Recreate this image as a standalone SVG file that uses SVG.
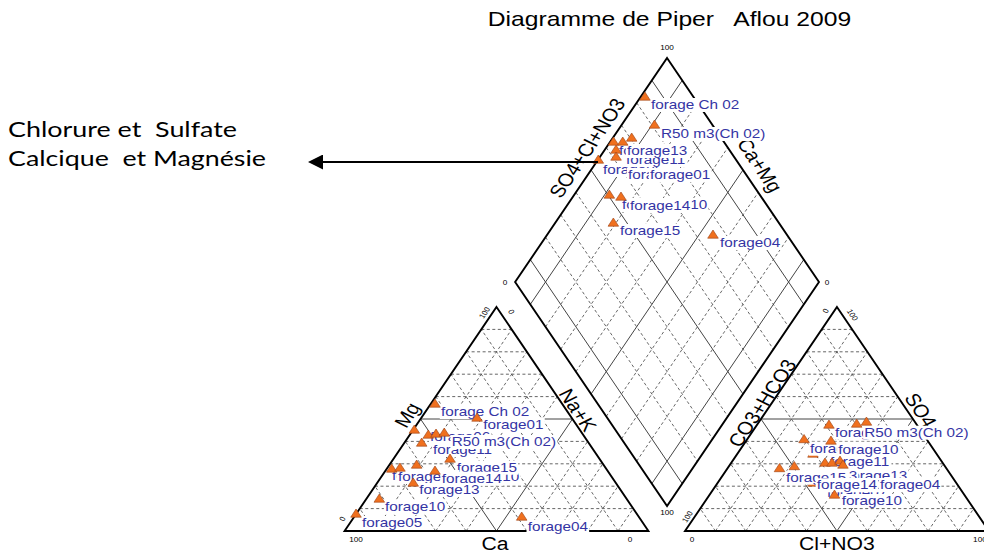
<svg xmlns="http://www.w3.org/2000/svg" xmlns:xlink="http://www.w3.org/1999/xlink" width="984" height="556" viewBox="0 0 984 556">
<style>
.ax{font-family:"Liberation Sans",Arial,sans-serif;font-size:18px;fill:#000;text-anchor:middle}
.tk{font-family:"Liberation Sans",Arial,sans-serif;font-size:7px;fill:#000;text-anchor:middle}
.ttl{font-family:"Liberation Sans",Arial,sans-serif;font-size:21px;fill:#000;text-anchor:middle;white-space:pre}
.lb rect{fill:#fff}
.lb text{font-family:"Liberation Sans",Arial,sans-serif;font-size:13px;fill:#3434A4;white-space:pre}
.mk{fill:#F0701E;stroke:#A0461A;stroke-width:0.6}
.note{font-family:Lato,"Open Sans",sans-serif;font-size:21px;fill:#000;white-space:pre}
</style>
<defs>
<path id="m" d="M0,-5L4.5,3.2H-4.5Z"/>
<g id="tri">
<path fill="none" stroke="#555" stroke-width="0.9" stroke-dasharray="3 2.5" vector-effect="non-scaling-stroke" d="M-12.93,22.4H12.93M-103.44,224L12.93,22.4M103.44,224L-12.93,22.4M-25.86,44.8H25.86M-77.58,224L25.86,44.8M77.58,224L-25.86,44.8M-38.79,67.2H38.79M-51.72,224L38.79,67.2M51.72,224L-38.79,67.2M-51.72,89.6H51.72M-25.86,224L51.72,89.6M25.86,224L-51.72,89.6M-77.58,134.4H77.58M25.86,224L77.58,134.4M-25.86,224L-77.58,134.4M-90.51,156.8H90.51M51.72,224L90.51,156.8M-51.72,224L-90.51,156.8M-103.44,179.2H103.44M77.58,224L103.44,179.2M-77.58,224L-103.44,179.2M-116.37,201.6H116.37M103.44,224L116.37,201.6M-103.44,224L-116.37,201.6"/>
<path fill="none" stroke="#444" stroke-width="1" vector-effect="non-scaling-stroke" d="M-64.65,112H64.65M0,224L64.65,112M0,224L-64.65,112"/>
<path fill="none" stroke="#000" stroke-width="1.9" vector-effect="non-scaling-stroke" d="M0,0L129.3,224H-129.3Z"/>
</g>
<g id="dia">
<path fill="none" stroke="#555" stroke-width="0.9" stroke-dasharray="3 2.5" vector-effect="non-scaling-stroke" d="M-103.44,179.2L25.86,403.2M-90.51,156.8L38.79,380.8M-77.58,134.4L51.72,358.4M-51.72,89.6L77.58,313.6M-38.79,67.2L90.51,291.2M-25.86,44.8L103.44,268.8M-103.44,268.8L25.86,44.8M-90.51,291.2L38.79,67.2M-77.58,313.6L51.72,89.6M-51.72,358.4L77.58,134.4M-38.79,380.8L90.51,156.8M-25.86,403.2L103.44,179.2"/>
<path fill="none" stroke="#444" stroke-width="1" vector-effect="non-scaling-stroke" d="M-116.37,201.6L12.93,425.6M-64.65,112L64.65,336M-12.93,22.4L116.37,246.4M-116.37,246.4L12.93,22.4M-64.65,336L64.65,112M-12.93,425.6L116.37,201.6"/>
<path fill="none" stroke="#000" stroke-width="1.9" vector-effect="non-scaling-stroke" d="M0,0L129.3,224L0,448L-129.3,224Z"/>
</g>
<marker id="ah" viewBox="0 0 10 10" refX="0" refY="5" markerWidth="15" markerHeight="15" markerUnits="userSpaceOnUse" orient="auto" preserveAspectRatio="none"><path d="M0,0L10,5L0,10Z" fill="#000"/></marker>
</defs>
<rect width="984" height="556" fill="#fff"/>
<g id="piper" transform="scale(1.175,1)">
<text class="ttl" x="569.8" y="26">Diagramme de Piper   Aflou 2009</text>
<g id="diamond"><use xlink:href="#dia" x="567.7" y="58"/></g>
<g id="triangle-cations"><use xlink:href="#tri" x="422.55" y="307"/></g>
<g id="triangle-anions"><use xlink:href="#tri" x="712.3" y="307"/></g>
<g id="axis-labels">
<text class="ax" transform="translate(499.6,148) rotate(-60)" y="6.5">SO4+Cl+NO3</text>
<text class="ax" transform="translate(646.8,165) rotate(60)" y="6.5">Ca+Mg</text>
<text class="ax" transform="translate(491.9,410) rotate(60)" y="6.5">Na+K</text>
<text class="ax" transform="translate(648.5,403) rotate(-60)" y="6.5">CO3+HCO3</text>
<text class="ax" transform="translate(346.4,415) rotate(-60)" y="6.5">Mg</text>
<text class="ax" transform="translate(783.8,410) rotate(60)" y="6.5">SO4</text>
<text class="ax" x="421.3" y="550">Ca</text>
<text class="ax" x="712.3" y="550">Cl+NO3</text>
</g>
<g id="ticks">
<text class="tk" x="567.7" y="50">100</text>
<text class="tk" x="429.8" y="285">0</text>
<text class="tk" x="703.8" y="285">0</text>
<text class="tk" x="567.7" y="515">100</text>
<text class="tk" transform="translate(414.5,314) rotate(-60)">100</text>
<text class="tk" transform="translate(433.2,313) rotate(60)">0</text>
<text class="tk" transform="translate(293.6,520) rotate(-60)">0</text>
<text class="tk" x="303" y="542">100</text>
<text class="tk" x="536.2" y="542">0</text>
<text class="tk" transform="translate(704.7,312) rotate(-60)">0</text>
<text class="tk" transform="translate(723.4,316) rotate(60)">100</text>
<text class="tk" transform="translate(587.2,518) rotate(-60)">100</text>
<text class="tk" x="589" y="542">0</text>
<text class="tk" x="834" y="542">100</text>
</g>
<g id="hidden-markers">
<use xlink:href="#m" class="mk" x="691.9" y="454"/>
<use xlink:href="#m" class="mk" x="691.9" y="483"/>
</g>
<g id="labels-diamond">
<g class="lb"><rect x="512.2" y="163" width="53.3" height="14"/><text x="513.2" y="174">forage06</text></g>
<g class="lb"><rect x="533.5" y="168" width="53.3" height="14"/><text x="534.5" y="179">forage08</text></g>
<g class="lb"><rect x="552.2" y="168" width="53.3" height="14"/><text x="553.2" y="179">forage01</text></g>
<g class="lb"><rect x="531.8" y="153" width="53.3" height="14"/><text x="532.8" y="164">forage11</text></g>
<g class="lb"><rect x="525.8" y="144" width="53.3" height="14"/><text x="526.8" y="155">forage12</text></g>
<g class="lb"><rect x="532.6" y="144" width="53.3" height="14"/><text x="533.6" y="155">forage13</text></g>
<g class="lb"><rect x="549.6" y="198" width="53.3" height="14"/><text x="550.6" y="209">forage10</text></g>
<g class="lb"><rect x="528.4" y="198" width="53.3" height="14"/><text x="529.4" y="209">forage09</text></g>
<g class="lb"><rect x="535.2" y="199" width="53.3" height="14"/><text x="536.2" y="210">forage14</text></g>
<g class="lb"><rect x="526.7" y="224" width="53.3" height="14"/><text x="527.7" y="235">forage15</text></g>
<g class="lb"><rect x="553" y="98" width="77.2" height="14"/><text x="554" y="109">forage Ch 02</text></g>
<g class="lb"><rect x="561.6" y="127" width="90.9" height="14"/><text x="562.6" y="138">R50 m3(Ch 02)</text></g>
<g class="lb"><rect x="611.8" y="236" width="53.3" height="14"/><text x="612.8" y="247">forage04</text></g>
</g>
<g id="labels-cations">
<g class="lb"><rect x="365" y="430" width="53.3" height="14"/><text x="366" y="441">forage06</text></g>
<g class="lb"><rect x="367.5" y="443" width="53.3" height="14"/><text x="368.5" y="454">forage11</text></g>
<g class="lb"><rect x="383.4" y="435" width="90.9" height="14"/><text x="384.4" y="446">R50 m3(Ch 02)</text></g>
<g class="lb"><rect x="389.6" y="470" width="53.3" height="14"/><text x="390.6" y="481">forage10</text></g>
<g class="lb"><rect x="387.7" y="460.7" width="53.3" height="14"/><text x="388.7" y="471.7">forage15</text></g>
<g class="lb"><rect x="332.6" y="469" width="53.3" height="14"/><text x="333.6" y="480">forage03</text></g>
<g class="lb"><rect x="337.7" y="470" width="53.3" height="14"/><text x="338.7" y="481">forage07</text></g>
<g class="lb"><rect x="374.9" y="471.7" width="53.3" height="14"/><text x="375.9" y="482.7">forage14</text></g>
<g class="lb"><rect x="355.9" y="483" width="53.3" height="14"/><text x="356.9" y="494">forage13</text></g>
<g class="lb"><rect x="326.7" y="500" width="53.3" height="14"/><text x="327.7" y="511">forage10</text></g>
<g class="lb"><rect x="307.1" y="516" width="53.3" height="14"/><text x="308.1" y="527">forage05</text></g>
<g class="lb"><rect x="374.3" y="405" width="77.2" height="14"/><text x="375.3" y="416">forage Ch 02</text></g>
<g class="lb"><rect x="410.3" y="418" width="53.3" height="14"/><text x="411.3" y="429">forage01</text></g>
<g class="lb"><rect x="448.1" y="520" width="53.3" height="14"/><text x="449.1" y="531">forage04</text></g>
</g>
<g id="labels-anions">
<g class="lb"><rect x="702.8" y="486" width="53.3" height="14"/><text x="703.8" y="497">forage07</text></g>
<g class="lb"><rect x="705.4" y="455" width="53.3" height="14"/><text x="706.4" y="466">forage11</text></g>
<g class="lb"><rect x="709.6" y="425.7" width="53.3" height="14"/><text x="710.6" y="436.7">forage01</text></g>
<g class="lb"><rect x="734.6" y="425.7" width="90.9" height="14"/><text x="735.6" y="436.7">R50 m3(Ch 02)</text></g>
<g class="lb"><rect x="688.4" y="441.7" width="53.3" height="14"/><text x="689.4" y="452.7">forage06</text></g>
<g class="lb"><rect x="712.4" y="443" width="53.3" height="14"/><text x="713.4" y="454">forage10</text></g>
<g class="lb"><rect x="719.9" y="469" width="53.3" height="14"/><text x="720.9" y="480">forage13</text></g>
<g class="lb"><rect x="677.3" y="469" width="53.3" height="14"/><text x="678.3" y="480">forage13</text></g>
<g class="lb"><rect x="667.9" y="470.7" width="53.3" height="14"/><text x="668.9" y="481.7">forage15</text></g>
<g class="lb"><rect x="705.4" y="478" width="53.3" height="14"/><text x="706.4" y="489">forage02</text></g>
<g class="lb"><rect x="747.9" y="478" width="53.3" height="14"/><text x="748.9" y="489">forage04</text></g>
<g class="lb"><rect x="694.1" y="478.3" width="53.3" height="14"/><text x="695.1" y="489.3">forage14</text></g>
<g class="lb"><rect x="715.3" y="494" width="53.3" height="14"/><text x="716.3" y="505">forage10</text></g>
</g>
<g id="markers">
<use xlink:href="#m" class="mk" x="548.9" y="97"/>
<use xlink:href="#m" class="mk" x="557" y="125"/>
<use xlink:href="#m" class="mk" x="522.1" y="142"/>
<use xlink:href="#m" class="mk" x="530" y="142"/>
<use xlink:href="#m" class="mk" x="537.6" y="138"/>
<use xlink:href="#m" class="mk" x="524.3" y="150"/>
<use xlink:href="#m" class="mk" x="524.3" y="157"/>
<use xlink:href="#m" class="mk" x="509.2" y="160"/>
<use xlink:href="#m" class="mk" x="518.6" y="195"/>
<use xlink:href="#m" class="mk" x="528.5" y="197"/>
<use xlink:href="#m" class="mk" x="522" y="223"/>
<use xlink:href="#m" class="mk" x="606.8" y="235"/>
<use xlink:href="#m" class="mk" x="370.2" y="404"/>
<use xlink:href="#m" class="mk" x="406" y="418"/>
<use xlink:href="#m" class="mk" x="352.6" y="430"/>
<use xlink:href="#m" class="mk" x="364.5" y="435"/>
<use xlink:href="#m" class="mk" x="371.1" y="434"/>
<use xlink:href="#m" class="mk" x="378.1" y="433"/>
<use xlink:href="#m" class="mk" x="358.9" y="443"/>
<use xlink:href="#m" class="mk" x="383" y="459"/>
<use xlink:href="#m" class="mk" x="333.4" y="469"/>
<use xlink:href="#m" class="mk" x="340.4" y="468"/>
<use xlink:href="#m" class="mk" x="354.6" y="465"/>
<use xlink:href="#m" class="mk" x="370.2" y="471"/>
<use xlink:href="#m" class="mk" x="351.7" y="483"/>
<use xlink:href="#m" class="mk" x="322.8" y="499"/>
<use xlink:href="#m" class="mk" x="303" y="514"/>
<use xlink:href="#m" class="mk" x="444" y="517"/>
<use xlink:href="#m" class="mk" x="705.5" y="425"/>
<use xlink:href="#m" class="mk" x="729.1" y="424"/>
<use xlink:href="#m" class="mk" x="737.4" y="422"/>
<use xlink:href="#m" class="mk" x="684.3" y="439.5"/>
<use xlink:href="#m" class="mk" x="707.2" y="441"/>
<use xlink:href="#m" class="mk" x="663.4" y="468.5"/>
<use xlink:href="#m" class="mk" x="676" y="466.5"/>
<use xlink:href="#m" class="mk" x="702.1" y="463"/>
<use xlink:href="#m" class="mk" x="708.1" y="463"/>
<use xlink:href="#m" class="mk" x="714.9" y="461"/>
<use xlink:href="#m" class="mk" x="717.4" y="465"/>
<use xlink:href="#m" class="mk" x="710.2" y="495"/>
</g>
</g>
<g id="annotation">
<text class="note" x="8" y="137" textLength="229" lengthAdjust="spacingAndGlyphs">Chlorure et  Sulfate</text>
<text class="note" x="8" y="166" textLength="258" lengthAdjust="spacingAndGlyphs">Calcique  et Magnésie</text>
</g>
<g id="connectors">
<line x1="598" y1="162" x2="323" y2="162" stroke="#000" stroke-width="2" marker-end="url(#ah)"/>
</g>
</svg>
